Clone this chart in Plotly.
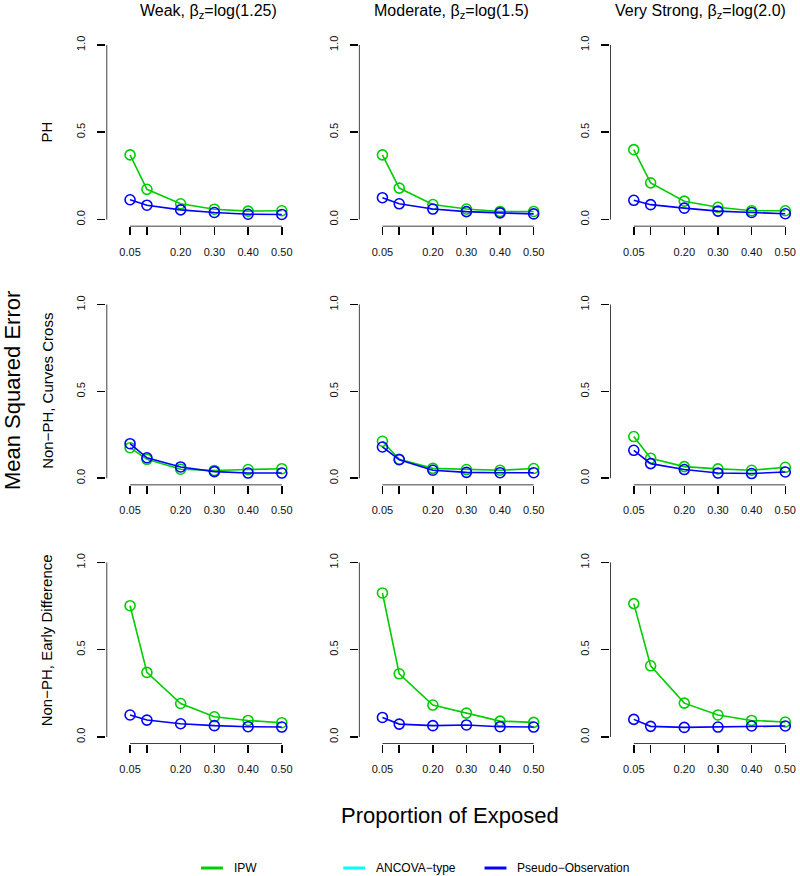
import plotly.graph_objects as go

# ---------------- data ----------------
x_props = [0.05, 0.10, 0.20, 0.30, 0.40, 0.50]
x_tick_vals = [0.05, 0.20, 0.30, 0.40, 0.50]
x_tick_text = ["0.05", "0.20", "0.30", "0.40", "0.50"]
x_minor_tick_vals = [0.10]
y_tick_vals = [0.0, 0.5, 1.0]
y_tick_text = ["0.0", "0.5", "1.0"]

col_titles = ["Weak, β<sub>z</sub>=log(1.25)",
              "Moderate, β<sub>z</sub>=log(1.5)",
              "Very Strong, β<sub>z</sub>=log(2.0)"]
row_titles = ["PH", "Non−PH, Curves Cross", "Non−PH, Early Difference"]
series_names = ["IPW", "ANCOVA−type", "Pseudo−Observation"]

# Row 1: PH
ipw_ph_weak = [0.370, 0.173, 0.090, 0.059, 0.048, 0.050]
ipw_ph_moderate = [0.370, 0.180, 0.086, 0.060, 0.046, 0.046]
ipw_ph_strong = [0.400, 0.210, 0.105, 0.070, 0.050, 0.050]
po_ph_weak = [0.113, 0.082, 0.055, 0.040, 0.030, 0.029]
po_ph_moderate = [0.125, 0.090, 0.060, 0.045, 0.038, 0.032]
po_ph_strong = [0.110, 0.085, 0.065, 0.048, 0.040, 0.033]

# Row 2: Non-PH, curves cross
ipw_cross_weak = [0.176, 0.109, 0.052, 0.045, 0.050, 0.055]
ipw_cross_moderate = [0.213, 0.109, 0.057, 0.050, 0.046, 0.056]
ipw_cross_strong = [0.240, 0.115, 0.067, 0.054, 0.046, 0.063]
po_cross_weak = [0.199, 0.118, 0.065, 0.038, 0.030, 0.030]
po_cross_moderate = [0.180, 0.107, 0.046, 0.034, 0.032, 0.032]
po_cross_strong = [0.161, 0.084, 0.050, 0.030, 0.027, 0.036]

# Row 3: Non-PH, early difference
ipw_early_weak = [0.752, 0.370, 0.192, 0.116, 0.095, 0.082]
ipw_early_moderate = [0.825, 0.362, 0.183, 0.137, 0.091, 0.084]
ipw_early_strong = [0.764, 0.408, 0.194, 0.126, 0.095, 0.086]
po_early_weak = [0.126, 0.097, 0.076, 0.065, 0.059, 0.057]
po_early_moderate = [0.112, 0.074, 0.065, 0.069, 0.059, 0.057]
po_early_strong = [0.101, 0.061, 0.055, 0.057, 0.063, 0.063]

ipw_grid = [[ipw_ph_weak, ipw_ph_moderate, ipw_ph_strong],
            [ipw_cross_weak, ipw_cross_moderate, ipw_cross_strong],
            [ipw_early_weak, ipw_early_moderate, ipw_early_strong]]
po_grid = [[po_ph_weak, po_ph_moderate, po_ph_strong],
           [po_cross_weak, po_cross_moderate, po_cross_strong],
           [po_early_weak, po_early_moderate, po_early_strong]]

# ---------------- style / layout ----------------
W, H = 800, 876
FONT = "Liberation Sans, Arial, Helvetica, sans-serif"
GREEN = "#00CD00"
CYAN = "#00FFFF"
BLUE = "#0000FF"

col_px = [(107, 290), (360.7, 543.1), (613.3, 796)]
row_px = [(36, 225), (296.3, 484.3), (554.7, 743.7)]
title_cx = [210, 454, 704]
row_label_cy = [130, 390, 640]

fig = go.Figure()
layout = dict(width=W, height=H, margin=dict(l=0, r=0, t=0, b=0),
              paper_bgcolor="white", plot_bgcolor="white",
              showlegend=False, font=dict(family=FONT, color="black"))
shapes = []
annotations = []

k = 0
for r in range(3):
    for c in range(3):
        k += 1
        xa = "xaxis" if k == 1 else f"xaxis{k}"
        ya = "yaxis" if k == 1 else f"yaxis{k}"
        xr = "x" if k == 1 else f"x{k}"
        yr = "y" if k == 1 else f"y{k}"
        x0, x1 = col_px[c]
        y0, y1 = row_px[r]
        layout[xa] = dict(domain=[x0 / W, x1 / W], anchor=yr, range=[-0.02, 0.52],
                          showgrid=False, zeroline=False, showline=False,
                          ticks="outside", ticklen=8, tickwidth=1.5, tickcolor="black",
                          tickmode="array", tickvals=x_tick_vals, ticktext=x_tick_text,
                          minor=dict(tickmode="array", tickvals=x_minor_tick_vals,
                                     ticks="outside", ticklen=8, tickwidth=1.5,
                                     tickcolor="black", showgrid=False),
                          tickfont=dict(size=11, family=FONT, color="#111"),
                          ticklabelstandoff=7, fixedrange=True)
        layout[ya] = dict(domain=[1 - y1 / H, 1 - y0 / H], anchor=xr, range=[-0.04, 1.04],
                          showgrid=False, zeroline=False, showline=False,
                          ticks="outside", ticklen=8, tickwidth=1.5, tickcolor="black",
                          tickmode="array", tickvals=y_tick_vals, ticktext=y_tick_text,
                          tickangle=-90,
                          tickfont=dict(size=11, family=FONT, color="#111"),
                          ticklabelstandoff=8, fixedrange=True)
        # axis lines (R style: only over tick range)
        shapes.append(dict(type="line", xref=xr, yref=yr, x0=-0.02, x1=-0.02,
                           y0=y_tick_vals[0], y1=y_tick_vals[-1],
                           line=dict(color="black", width=1.5)))
        shapes.append(dict(type="line", xref=xr, yref=yr, x0=x_props[0], x1=x_props[-1],
                           y0=-0.04, y1=-0.04, line=dict(color="black", width=1.5)))
        fig.add_trace(go.Scatter(x=x_props, y=ipw_grid[r][c], mode="lines+markers",
                                 xaxis=xr, yaxis=yr, name=series_names[0],
                                 line=dict(color=GREEN, width=1.6),
                                 marker=dict(symbol="circle-open", size=10, color=GREEN,
                                             line=dict(width=1.6, color=GREEN))))
        fig.add_trace(go.Scatter(x=x_props, y=po_grid[r][c], mode="lines+markers",
                                 xaxis=xr, yaxis=yr, name=series_names[2],
                                 line=dict(color=BLUE, width=1.6),
                                 marker=dict(symbol="circle-open", size=10, color=BLUE,
                                             line=dict(width=1.6, color=BLUE))))

# column titles
for c in range(3):
    annotations.append(dict(text=col_titles[c], x=title_cx[c] / W, y=1 - 10 / H,
                            xref="paper", yref="paper", showarrow=False,
                            xanchor="center", yanchor="middle",
                            font=dict(size=16, family=FONT, color="black")))
# row titles
for r in range(3):
    annotations.append(dict(text=row_titles[r], x=47 / W, y=1 - row_label_cy[r] / H,
                            xref="paper", yref="paper", showarrow=False, textangle=-90,
                            xanchor="center", yanchor="middle",
                            font=dict(size=15, family=FONT, color="black")))
# global axis titles
annotations.append(dict(text="Mean Squared Error", x=12 / W, y=1 - 389 / H,
                        xref="paper", yref="paper", showarrow=False, textangle=-90,
                        xanchor="center", yanchor="middle",
                        font=dict(size=22, family=FONT, color="black")))
annotations.append(dict(text="Proportion of Exposed", x=452 / W, y=1 - 815 / H,
                        xref="paper", yref="paper", showarrow=False,
                        xanchor="center", yanchor="middle",
                        font=dict(size=22, family=FONT, color="black")))

# legend (bottom, horizontal)
legend_colors = [GREEN, CYAN, BLUE]
legend_line_x = [(202, 224), (345, 367), (487, 509)]
legend_y = 868
for name, col, (lx0, lx1) in zip(series_names, legend_colors, legend_line_x):
    shapes.append(dict(type="line", xref="paper", yref="paper",
                       x0=lx0 / W, x1=lx1 / W, y0=1 - legend_y / H, y1=1 - legend_y / H,
                       line=dict(color=col, width=3)))
    annotations.append(dict(text=name, x=(lx1 + 9) / W, y=1 - legend_y / H,
                            xref="paper", yref="paper", showarrow=False,
                            xanchor="left", yanchor="middle",
                            font=dict(size=12, family=FONT, color="black")))

layout["shapes"] = shapes
layout["annotations"] = annotations
fig.update_layout(**layout)
fig.write_html("out.html",
               config={"displayModeBar": False, "staticPlot": True},
               post_script="document.body.style.margin='0';document.body.style.padding='0';")
